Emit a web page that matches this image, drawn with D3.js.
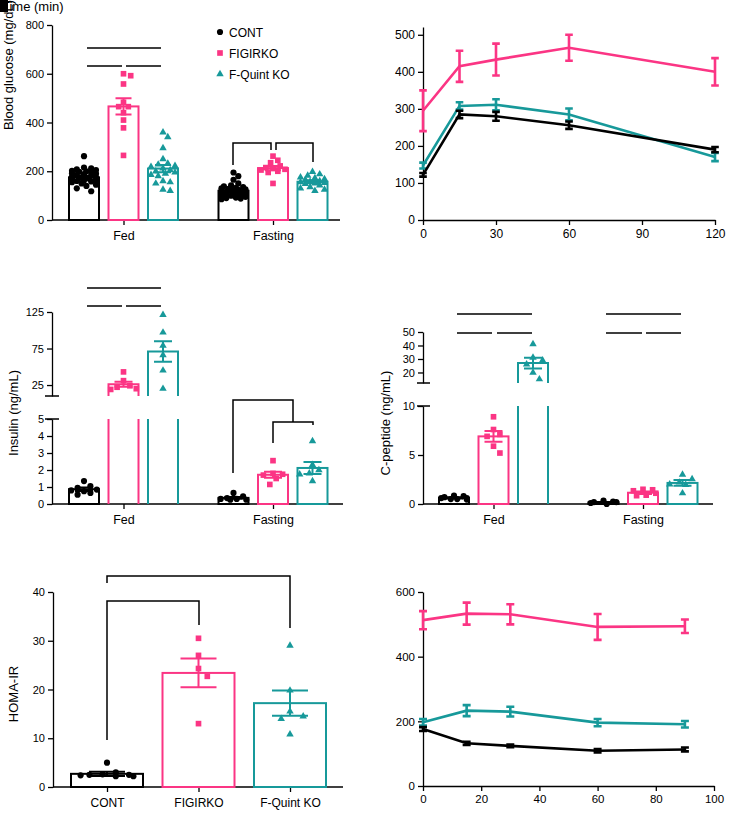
<!DOCTYPE html>
<html><head><meta charset="utf-8">
<script src="https://cdn.jsdelivr.net/npm/d3@7"></script>
<style>body{margin:0;background:#fff}svg{display:block}text{font-family:"Liberation Sans",Arial,sans-serif}</style>
</head><body><svg id="c" width="729" height="826"></svg>
<script>
// ---------- DATA ----------
const groups = ["CONT", "FIGIRKO", "F-Quint KO"];
const conditions = ["Fed", "Fasting"];

// Blood glucose (mg/dL)
const glucoseFedMean = [175, 466, 211];
const glucoseFedSEM = [7, 33, 15];
const glucoseFedPts = [
  [262,215,212,208,205,202,200,198,195,192,190,188,185,182,180,178,175,172,170,168,165,162,160,158,155,150,145,140,130,118],
  [600,592,558,483,465,465,440,410,378,265],
  [360,340,295,250,232,228,222,218,212,205,200,195,190,185,180,160,155,150,125,120]
];
const glucoseFastMean = [120, 213, 157];
const glucoseFastSEM = [5, 9, 6];
const glucoseFastPts = [
  [195,180,165,150,142,138,135,132,130,128,126,124,122,120,118,116,114,112,110,108,106,104,102,100,98,95,92,90,88,85],
  [262,245,235,222,215,212,208,205,200,195,150],
  [198,188,182,175,172,168,165,160,158,155,152,150,148,142,135,130,125,120]
];
const glucoseTicks = [0, 200, 400, 600, 800];

// Glucose tolerance time course
const gttTime = [0, 15, 30, 60, 120];
const gttCONT = [122, 285, 280, 256, 190];
const gttCONTsem = [5, 10, 12, 10, 7];
const gttFIGIRKO = [295, 415, 433, 465, 400];
const gttFIGIRKOsem = [55, 42, 43, 35, 37];
const gttFQuint = [147, 308, 311, 285, 170];
const gttFQuintSem = [8, 10, 15, 16, 11];
const gttXTicks = [0, 30, 60, 90, 120];
const gttYTicks = [0, 100, 200, 300, 400, 500];

// Insulin (ng/mL)
const insFedMean = [0.87, 26, 71];
const insFedSEM = [0.1, 3.5, 14];
const insFedPts = [[1.35,1.05,0.95,0.85,0.8,0.75,0.65,0.55],[43,31,24,22,20,19],[121,97,79,66,45,20]];
const insFastMean = [0.36, 1.72, 2.12];
const insFastSEM = [0.05, 0.18, 0.35];
const insFastPts = [[0.65,0.45,0.35,0.3,0.3,0.25,0.25],[2.55,1.8,1.75,1.7,1.5,1.15],[3.7,2.3,2.0,1.8,1.75,1.35]];
const insLowTicks = [0, 1, 2, 3, 4, 5];
const insHighTicks = [25, 75, 125];

// C-peptide (ng/mL)
const cpFedMean = [0.62, 6.9, 27];
const cpFedSEM = [0.06, 0.55, 4];
const cpFedPts = [[0.85,0.8,0.7,0.6,0.6,0.5,0.5,0.45],[8.9,7.6,7.1,6.9,5.9,5.2],[41,31,29,26,20,15]];
const cpFastMean = [0.16, 1.15, 2.15];
const cpFastSEM = [0.05, 0.12, 0.3];
const cpFastPts = [[0.35,0.25,0.2,0.2,0.1,0.0],[1.5,1.45,1.35,1.1,0.9,0.85],[3.0,2.55,2.2,2.0,1.95,1.1]];
const cpLowTicks = [0, 5, 10];
const cpHighTicks = [20, 30, 40, 50];

// HOMA-IR
const homaMean = [2.7, 23.4, 17.2];
const homaSEM = [0.45, 2.95, 2.6];
const homaPts = [[5.0,3.0,2.6,2.5,2.5,2.4,2.2,2.2],[30.5,27,24.3,22.7,13],[29,19.8,15.5,14.5,14,10.8]];
const homaTicks = [0, 10, 20, 30, 40];

// Second time course
const ittTime = [0, 15, 30, 60, 90];
const ittCONT = [176, 132, 124, 109, 113];
const ittCONTsem = [6, 5, 4, 5, 6];
const ittFIGIRKO = [513, 533, 531, 492, 494];
const ittFIGIRKOsem = [28, 34, 31, 40, 21];
const ittFQuint = [197, 233, 230, 196, 191];
const ittFQuintSem = [10, 17, 15, 11, 10];
const ittXTicks = [0, 20, 40, 60, 80, 100];
const ittYTicks = [0, 200, 400, 600];

// ---------- STYLE ----------
const PINK = "#fb3584", TEAL = "#17999a", BLACK = "#000";
const colors = [BLACK, PINK, TEAL];
const symbols = [d3.symbolCircle, d3.symbolSquare, d3.symbolTriangle];
const symSize = [30, 32, 24];
const FONT = '"Liberation Sans", Arial, sans-serif';

const svg = d3.select("#c");
svg.append("rect").attr("width", 729).attr("height", 826).attr("fill", "#fff");

function styleAxis(g, fs) {
  g.selectAll("path,line").attr("stroke", "#000").attr("stroke-width", 1.3);
  g.selectAll("text").attr("font-size", fs).attr("fill", "#000").attr("font-family", FONT);
}
function yAxis(scale, x, ticks, fs) {
  const g = svg.append("g").attr("transform", `translate(${x},0)`)
    .call(d3.axisLeft(scale).tickValues(ticks).tickFormat(d3.format("d")).tickSize(5).tickPadding(3).tickSizeOuter(0));
  styleAxis(g, fs);
  return g;
}
function xAxisNum(scale, y, ticks, fs) {
  const g = svg.append("g").attr("transform", `translate(0,${y})`)
    .call(d3.axisBottom(scale).tickValues(ticks).tickFormat(d3.format("d")).tickSize(5).tickPadding(4).tickSizeOuter(0));
  styleAxis(g, fs);
  return g;
}
function xAxisCat(scale, y, x0, x1, fs, pad) {
  svg.append("line").attr("x1", x0).attr("x2", x1).attr("y1", y).attr("y2", y)
    .attr("stroke", "#000").attr("stroke-width", 1.3);
  const g = svg.append("g").attr("transform", `translate(0,${y})`)
    .call(d3.axisBottom(scale).tickSize(5).tickPadding(pad).tickSizeOuter(0));
  g.select(".domain").remove();
  styleAxis(g, fs);
}
function yLabel(text, x, y, anchor) {
  svg.append("text").attr("transform", `translate(${x},${y}) rotate(-90)`)
    .attr("text-anchor", anchor).attr("font-size", 13).attr("font-family", FONT).text(text);
}
function swarm(ys, cx, half, r) {
  const placed = [];
  return ys.map(y => {
    let best = 0, bestC = Infinity;
    for (let k = 0; k < 80; k++) {
      const off = (k % 2 ? 1 : -1) * Math.ceil(k / 2) * r * 0.8;
      if (Math.abs(off) > half) continue;
      let c = 0;
      for (const p of placed) {
        const d = Math.hypot(p[0] - (cx + off), p[1] - y);
        if (d < 2 * r) c += (2 * r - d);
      }
      if (c < bestC - 1e-9) { bestC = c; best = off; }
      if (c === 0) break;
    }
    placed.push([cx + best, y]);
    return cx + best;
  });
}
// draw a set of 3 bars
function drawBars(centers, w, means, sems, pts, ymap, broken, cap, half, rc) {
  means.forEach((m, i) => {
    const cx = centers[i], x0 = cx - w / 2, x1 = cx + w / 2, col = colors[i];
    if (!broken || m <= broken.lowMax) {
      svg.append("rect").attr("x", x0).attr("y", ymap(m)).attr("width", w)
        .attr("height", ymap(0) - ymap(m)).attr("fill", "#fff").attr("stroke", col).attr("stroke-width", 2);
    } else {
      const p = d3.path();
      p.moveTo(x0, ymap(0)); p.lineTo(x0, broken.yL(broken.lowMax));
      p.moveTo(x1, ymap(0)); p.lineTo(x1, broken.yL(broken.lowMax));
      p.moveTo(x0, broken.yU(broken.upMin)); p.lineTo(x0, broken.yU(m));
      p.lineTo(x1, broken.yU(m)); p.lineTo(x1, broken.yU(broken.upMin));
      svg.append("path").attr("d", p.toString()).attr("fill", "none").attr("stroke", col).attr("stroke-width", 2);
    }
    // points
    const ys = pts[i].map(ymap);
    const xs = swarm(ys, cx, half, rc);
    svg.append("g").selectAll("path").data(ys).join("path")
      .attr("d", d3.symbol().type(symbols[i]).size(symSize[i]))
      .attr("transform", (y, j) => `translate(${xs[j]},${y})`).attr("fill", col);
    // error bar
    const lo = ymap(m - sems[i]), hi = ymap(m + sems[i]);
    const e = d3.path();
    e.moveTo(cx, lo); e.lineTo(cx, hi);
    e.moveTo(cx - cap, lo); e.lineTo(cx + cap, lo);
    e.moveTo(cx - cap, hi); e.lineTo(cx + cap, hi);
    svg.append("path").attr("d", e.toString()).attr("fill", "none").attr("stroke", col).attr("stroke-width", 2);
  });
}
function sig(d) {
  svg.append("path").attr("d", d).attr("fill", "none").attr("stroke", "#000").attr("stroke-width", 1.5);
}
function timeCourse(x, y, series, capW) {
  series.forEach(s => {
    svg.append("path").datum(s.t.map((t, i) => [t, s.v[i]]))
      .attr("d", d3.line().x(d => x(d[0])).y(d => y(d[1])))
      .attr("fill", "none").attr("stroke", s.c).attr("stroke-width", 2.6);
    const e = d3.path();
    s.t.forEach((t, i) => {
      const cx = x(t), lo = y(s.v[i] - s.e[i]), hi = y(s.v[i] + s.e[i]);
      e.moveTo(cx, lo); e.lineTo(cx, hi);
      e.moveTo(cx - capW, lo); e.lineTo(cx + capW, lo);
      e.moveTo(cx - capW, hi); e.lineTo(cx + capW, hi);
    });
    svg.append("path").attr("d", e.toString()).attr("fill", "none").attr("stroke", s.c).attr("stroke-width", 2.6);
  });
}

// ---------- PANEL A: blood glucose ----------
{
  const y = d3.scaleLinear().domain([0, 800]).range([220, 25]);
  const xc = d3.scalePoint().domain(conditions).range([123.5, 273]);
  const xg = d3.scalePoint().domain(groups).range([-39.5, 39.5]);
  yAxis(y, 52, glucoseTicks, 11);
  xAxisCat(xc, 220, 52, 340, 12.5, 6);
  drawBars(groups.map(g => xc("Fed") + xg(g)), 30, glucoseFedMean, glucoseFedSEM, glucoseFedPts, y, null, 8, 12, 3);
  drawBars(groups.map(g => xc("Fasting") + xg(g)), 30, glucoseFastMean, glucoseFastSEM, glucoseFastPts, y, null, 8, 12, 3);
  sig("M87,48H161M87,66H122M126,66H161");
  sig("M233,165V143H271V150M276,150V143H313V162");
  svg.append("text").attr("x", 2).attr("y", 11).attr("font-size", 13).attr("font-family", FONT).text("Time (min)");
  svg.append("rect").attr("x", 0).attr("y", 0).attr("width", 8).attr("height", 12).attr("fill", "#000");
  yLabel("Blood glucose (mg/dL)", 13, 130, "start");
  // legend
  groups.forEach((g, i) => {
    const ly = 32 + i * 21;
    svg.append("path").attr("d", d3.symbol().type(symbols[i]).size(symSize[i])())
      .attr("transform", `translate(220,${ly})`).attr("fill", colors[i]);
    svg.append("text").attr("x", 229).attr("y", ly + 4.5).attr("font-size", 12).attr("font-family", FONT).text(g);
  });
}

// ---------- PANEL B: glucose time course ----------
{
  const x = d3.scaleLinear().domain([0, 120]).range([423, 715]);
  const y = d3.scaleLinear().domain([0, 521]).range([220, 27]);
  yAxis(y, 423, gttYTicks, 12);
  xAxisNum(x, 220, gttXTicks, 12);
  timeCourse(x, y, [
    { t: gttTime, v: gttFIGIRKO, e: gttFIGIRKOsem, c: PINK },
    { t: gttTime, v: gttFQuint, e: gttFQuintSem, c: TEAL },
    { t: gttTime, v: gttCONT, e: gttCONTsem, c: BLACK }
  ], 3.8);
}

// ---------- PANEL C: insulin (broken axis) ----------
{
  const yL = d3.scaleLinear().domain([0, 5]).range([504, 419]);
  const yU = d3.scaleLinear().domain([10, 125]).range([396, 312]);
  const broken = { lowMax: 5, upMin: 10, yL, yU };
  const ymap = v => v <= 5 ? yL(v) : yU(Math.max(v, 10));
  const xc = d3.scalePoint().domain(conditions).range([123.5, 273]);
  const xg = d3.scalePoint().domain(groups).range([-39.5, 39.5]);
  yAxis(yL, 52, insLowTicks, 11);
  yAxis(yU, 52, insHighTicks, 11);
  svg.append("path").attr("d", "M45,396H59M45,419H59").attr("stroke", "#000").attr("stroke-width", 1.3);
  xAxisCat(xc, 504, 52, 343, 12.5, 6);
  drawBars(groups.map(g => xc("Fed") + xg(g)), 30, insFedMean, insFedSEM, insFedPts, ymap, broken, 9, 13, 4);
  drawBars(groups.map(g => xc("Fasting") + xg(g)), 30, insFastMean, insFastSEM, insFastPts, ymap, broken, 9, 13, 4);
  sig("M87,288H161M87,306H122M126,306H161");
  sig("M233,473V400H293V422M273,443V422H313V425");
  yLabel("Insulin (ng/mL)", 18, 413, "middle");
}

// ---------- PANEL D: C-peptide (broken axis) ----------
{
  const yL = d3.scaleLinear().domain([0, 10]).range([504, 406]);
  const yU = d3.scaleLinear().domain([12.2, 50]).range([383, 332]);
  const broken = { lowMax: 10, upMin: 12.2, yL, yU };
  const ymap = v => v <= 10 ? yL(v) : yU(Math.max(v, 12.2));
  const xc = d3.scalePoint().domain(conditions).range([493.5, 643]);
  const xg = d3.scalePoint().domain(groups).range([-39.5, 39.5]);
  yAxis(yL, 423, cpLowTicks, 11);
  yAxis(yU, 423, cpHighTicks, 11);
  svg.append("path").attr("d", "M417,383H430M417,406H430").attr("stroke", "#000").attr("stroke-width", 1.3);
  xAxisCat(xc, 504, 423, 713, 12.5, 6);
  drawBars(groups.map(g => xc("Fed") + xg(g)), 30, cpFedMean, cpFedSEM, cpFedPts, ymap, broken, 9, 13, 4);
  drawBars(groups.map(g => xc("Fasting") + xg(g)), 30, cpFastMean, cpFastSEM, cpFastPts, ymap, broken, 9, 13, 4);
  sig("M457,314H532M457,333H492M497,333H532");
  sig("M606,314H681M606,333H642M646,333H681");
  yLabel("C-peptide (ng/mL)", 390, 423, "middle");
}

// ---------- PANEL E: HOMA-IR ----------
{
  const y = d3.scaleLinear().domain([0, 40]).range([787, 592]);
  const x = d3.scalePoint().domain(groups).range([107, 290]);
  yAxis(y, 53, homaTicks, 11);
  xAxisCat(x, 787, 53, 343, 12, 6);
  drawBars(groups.map(g => x(g)), 72, homaMean, homaSEM, homaPts, y, null, 18, 28, 5.5);
  sig("M107,740V601H199V625");
  sig("M107,583V576H290V628");
  yLabel("HOMA-IR", 18, 694, "middle");
}

// ---------- PANEL F: second time course ----------
{
  const x = d3.scaleLinear().domain([0, 100]).range([423, 714]);
  const y = d3.scaleLinear().domain([0, 600]).range([786, 592]);
  yAxis(y, 423, ittYTicks, 11.5);
  xAxisNum(x, 786, ittXTicks, 11.5);
  timeCourse(x, y, [
    { t: ittTime, v: ittFIGIRKO, e: ittFIGIRKOsem, c: PINK },
    { t: ittTime, v: ittFQuint, e: ittFQuintSem, c: TEAL },
    { t: ittTime, v: ittCONT, e: ittCONTsem, c: BLACK }
  ], 4);
}
</script></body></html>
